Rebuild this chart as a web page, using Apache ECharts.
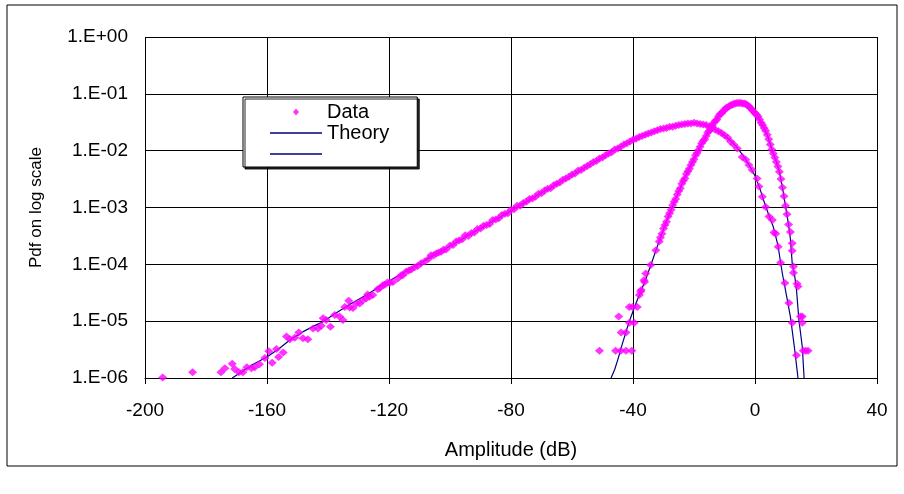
<!DOCTYPE html>
<html>
<head>
<meta charset="utf-8">
<script src="https://cdn.jsdelivr.net/npm/echarts@6/dist/echarts.min.js"></script>
<style>
html,body{margin:0;padding:0;background:#fff;}
#chart{width:904px;height:494px;}
</style>
</head>
<body>
<div id="chart"></div>
<script>
// Values are [amplitude dB, log10(pdf)]
const xTicks = [-200, -160, -120, -80, -40, 0, 40];
const yTickExps = [0, -1, -2, -3, -4, -5, -6];

const wideData = [
  [-194.2,-5.99],[-184.4,-5.90],[-175.1,-5.90],[-173.8,-5.83],[-171.4,-5.75],[-170.6,-5.84],
  [-169.2,-5.90],[-167.9,-5.90],[-166.6,-5.81],[-165.1,-5.83],[-164.0,-5.81],[-162.5,-5.76],
  [-160.7,-5.65],[-159.4,-5.53],[-158.3,-5.73],[-156.9,-5.49],[-156.2,-5.63],[-154.7,-5.55],
  [-153.6,-5.27],[-152.5,-5.32],[-150.9,-5.29],[-149.6,-5.20],[-148.2,-5.30],[-146.6,-5.32],
  [-144.9,-5.13],[-143.3,-5.13],[-142.2,-5.08],[-141.6,-4.95],[-140.6,-4.98],[-139.2,-5.10],
  [-137.8,-4.89],[-136.2,-4.92],[-135.1,-4.98],[-134.5,-4.75],[-133.2,-4.64],[-132.9,-4.76],
  [-131.8,-4.77],[-130.7,-4.69],[-129.6,-4.69],[-128.6,-4.63],[-127.5,-4.60],[-127.0,-4.53],
  [-126.4,-4.57],[-125.3,-4.54],[-123.7,-4.44],[-123.1,-4.42],[-122.0,-4.37],[-121.4,-4.36],
  [-120.5,-4.32],[-119.8,-4.33],[-118.7,-4.31],[-117.1,-4.25],[-116.0,-4.19],[-115.5,-4.19],
  [-114.4,-4.13],[-113.5,-4.11],[-112.7,-4.09],[-111.6,-4.05],[-110.6,-4.03],[-109.5,-3.98],
  [-108.3,-3.95],[-107.0,-3.90],[-106.2,-3.84],[-105.3,-3.84],[-104.5,-3.81],[-103.7,-3.79],
  [-102.9,-3.78],[-102.1,-3.74],[-101.3,-3.74],
  [-100,-3.67],[-99,-3.66],[-98,-3.60],[-97,-3.58],[-96,-3.56],[-95,-3.49],[-94,-3.50],
  [-93,-3.45],[-92,-3.44],[-91,-3.38],[-90,-3.37],[-89,-3.32],[-88,-3.31],[-87,-3.29],
  [-86,-3.22],[-85,-3.21],[-84,-3.19],[-83,-3.13],[-82,-3.11],[-81,-3.10],[-80,-3.04],
  [-79,-3.03],[-78,-2.97],[-77,-2.97],[-76,-2.92],[-75,-2.90],[-74,-2.85],[-73,-2.84],
  [-72,-2.81],[-71,-2.76],[-70,-2.75],[-69,-2.70],[-68,-2.67],[-67,-2.66],[-66,-2.61],
  [-65,-2.58],[-64,-2.56],[-63,-2.51],[-62,-2.49],[-61,-2.46],[-60,-2.42],[-59,-2.40],
  [-58,-2.35],[-57,-2.34],[-56,-2.30],[-55,-2.27],[-54,-2.24],[-53,-2.20],[-52,-2.18],
  [-51,-2.14],[-50,-2.12],[-49,-2.08],[-48,-2.05],[-47,-2.03],[-46,-1.98],[-45,-1.96],
  [-44,-1.93],[-43,-1.89],[-42,-1.87],[-41,-1.84],[-40,-1.81],[-39,-1.79],[-38,-1.76],
  [-37,-1.74],[-36,-1.72],[-35,-1.70],[-34,-1.68],[-33,-1.66],[-32,-1.64],[-31,-1.62],
  [-30,-1.61],[-29,-1.60],[-28,-1.58],[-27,-1.58],[-26,-1.56],[-25,-1.55],[-24,-1.54],
  [-23,-1.53],[-22,-1.52],[-21,-1.52],[-20,-1.51],[-19,-1.52],[-18,-1.53],[-17,-1.54],
  [-16,-1.55],[-15,-1.57],[-14,-1.60],[-13,-1.63],[-12,-1.66],[-11,-1.69],[-10,-1.73],
  [-9,-1.77],[-8,-1.84],[-7,-1.89],[-5.8,-1.96],[-4.2,-2.11],[-3.0,-2.16],[-2.0,-2.25],
  [-0.9,-2.34],[0.7,-2.49],[1.3,-2.63],[2.4,-2.81],[3.5,-2.99],[4.6,-3.16],[5.7,-3.22],
  [6.2,-3.44],[6.8,-3.46],[7.6,-3.69],[8.4,-3.97],[9.8,-4.33],[11.1,-4.68],[12.2,-5.03],
  [13.6,-5.60]
];

const narrowData = [
  [-51.0,-5.52],[-45.7,-5.52],[-44.0,-5.52],[-42.3,-5.52],[-40.4,-5.52],[-43.9,-5.20],
  [-42.3,-5.20],[-44.7,-4.92],[-41.2,-5.03],[-39.6,-5.03],[-41.2,-4.75],[-40.2,-4.75],
  [-38.6,-4.75],[-37.9,-4.54],[-37.5,-4.48],[-37.3,-4.45],[-36.4,-4.28],[-36.2,-4.31],
  [-35.8,-4.16],[-34.2,-4.01],[-32.5,-3.75],[-31.4,-3.60],
  [-31,-3.53],[-30.5,-3.46],[-30,-3.37],[-29.5,-3.31],[-29,-3.25],[-28.5,-3.16],[-28,-3.10],
  [-27.5,-3.04],[-27,-2.96],[-26.5,-2.90],[-26,-2.85],[-25.5,-2.77],[-25,-2.71],[-24.5,-2.66],
  [-24,-2.58],[-23.5,-2.53],[-23,-2.49],[-22.5,-2.41],[-22,-2.36],[-21.5,-2.32],[-21,-2.25],
  [-20.5,-2.20],[-20,-2.15],[-19.5,-2.08],[-19,-2.04],[-18.5,-1.99],[-18,-1.93],[-17.5,-1.87],
  [-17,-1.83],[-16.5,-1.80],[-16,-1.74],[-15.5,-1.68],[-15,-1.65],[-14.5,-1.61],[-14,-1.56],
  [-13.5,-1.51],[-13,-1.48],[-12.5,-1.45],[-12,-1.40],[-11.5,-1.36],[-11,-1.34],[-10.5,-1.31],
  [-10,-1.28],[-9.5,-1.25],[-9,-1.24],[-8.5,-1.22],[-8,-1.20],[-7.5,-1.19],[-7,-1.18],
  [-6.5,-1.17],[-6,-1.16],[-5.5,-1.16],[-5,-1.16],[-4.5,-1.16],[-4,-1.17],[-3.5,-1.17],
  [-3,-1.18],[-2.5,-1.20],[-2,-1.22],[-1.5,-1.25],[-1,-1.28],[-0.5,-1.31],[0,-1.34],
  [0.5,-1.37],[1,-1.40],[1.5,-1.45],[2,-1.51],[2.5,-1.55],[3,-1.60],[3.5,-1.65],[4,-1.72],
  [4.5,-1.80],[5,-1.89],[5.5,-1.98],[6,-2.05],[6.5,-2.12],[7,-2.20],[7.5,-2.28],[8,-2.37],
  [8.5,-2.50],[9,-2.65],[9.5,-2.80],[10,-2.97],[10.5,-3.12],[11,-3.30],
  [11.6,-3.43],[12.2,-3.63],[12.2,-3.76],[12.6,-4.04],[12.6,-4.15],[13.8,-4.34],[14.1,-4.39],
  [14.9,-4.92],[15.5,-4.92],[15.5,-5.03],[15.8,-5.52],[16.6,-5.52],[17.4,-5.52]
];

const wideTheory = [
  [-171.4,-6.00],[-168,-5.88],[-165,-5.77],[-160,-5.63],[-156,-5.48],[-152.5,-5.33],[-148,-5.18],
  [-144,-5.07],[-141.6,-5.01],[-138,-4.88],[-134,-4.74],[-130,-4.62],[-126,-4.49],[-122,-4.36],
  [-118,-4.23],[-114,-4.11],[-110,-3.99],[-106,-3.86],[-102,-3.74],[-98,-3.62],[-94,-3.49],
  [-90,-3.37],[-86,-3.24],[-82,-3.12],[-78,-2.99],[-74,-2.87],[-70,-2.74],[-66,-2.62],
  [-62,-2.49],[-58,-2.37],[-54,-2.24],[-50,-2.12],[-46,-1.99],[-42,-1.87],[-38,-1.76],
  [-35,-1.70],[-32,-1.64],[-29,-1.60],[-26,-1.56],[-23,-1.53],[-20,-1.51],[-17,-1.54],
  [-14,-1.60],[-11,-1.69],[-8,-1.82],[-6,-1.94],[-4,-2.08],[-2,-2.25],[0,-2.44],[1.5,-2.65],
  [3,-2.90],[4.5,-3.13],[6,-3.34],[7.5,-3.66],[9,-4.17],[10.5,-4.60],[11.6,-4.92],[12.9,-5.45],
  [14.1,-6.00]
];

const narrowTheory = [
  [-47.2,-6.00],[-46,-5.85],[-45,-5.68],[-43.5,-5.40],[-41.5,-5.05],[-39.5,-4.75],[-38,-4.55],
  [-36,-4.29],[-34,-3.99],[-32,-3.68],[-30,-3.38],[-28,-3.10],[-26,-2.84],[-24,-2.59],
  [-22,-2.36],[-20,-2.14],[-18,-1.93],[-16,-1.74],[-14,-1.56],[-12,-1.40],[-10,-1.28],
  [-8,-1.20],[-6,-1.16],[-4.5,-1.16],[-3,-1.18],[-2,-1.22],
  [-1,-1.28],[0,-1.34],[1,-1.40],[2,-1.51],[3,-1.60],[4,-1.72],[5,-1.89],[6,-2.05],[7,-2.20],
  [8,-2.37],[9,-2.65],[10,-2.97],[11,-3.30],[11.6,-3.55],[12.2,-3.98],[13,-4.20],[13.6,-4.45],
  [14.4,-4.98],[15.5,-5.45],[16.1,-6.00]
];

const toPdf = pts => pts.map(p => [p[0], Math.pow(10, p[1])]);

const FONT = "'Liberation Sans', Arial, sans-serif";
const MAGENTA = '#FF00FF';
const NAVY = '#000080';

function expLabel(v) {
  const e = Math.round(Math.log10(v));
  return '1.E' + (e < 0 ? '-' : '+') + String(Math.abs(e)).padStart(2, '0');
}

const LINE_ICON = 'path://M0,0 L52,0 L52,1.6 L0,1.6 Z';
const DOT_ICON = 'path://M3,0 L6,3.5 L3,7 L0,3.5 Z';

const chart = echarts.init(document.getElementById('chart'), null, {renderer: 'canvas'});
chart.setOption({
  backgroundColor: '#ffffff',
  animation: false,
  graphic: [{
    type: 'rect',
    shape: {x: 7, y: 5, width: 890, height: 461},
    style: {fill: 'none', stroke: '#000', lineWidth: 1},
    silent: true, z: -1
  }],
  legend: {
    orient: 'vertical',
    left: 243, top: 97,
    itemWidth: 52, itemHeight: 7, itemGap: 1,
    padding: [5, 28, 3, 27],
    backgroundColor: '#fff',
    borderColor: '#000', borderWidth: 1,
    shadowColor: 'rgba(0,0,0,0.85)', shadowBlur: 0, shadowOffsetX: 2, shadowOffsetY: 2,
    textStyle: {fontSize: 20, color: '#000', fontFamily: FONT},
    selectedMode: false,
    symbolKeepAspect: true,
    data: [
      {name: 'Data', icon: DOT_ICON},
      {name: 'Theory', icon: LINE_ICON},
      {name: ' ', icon: LINE_ICON}
    ]
  },
  grid: {left: 145, right: 27, top: 37, bottom: 116},
  xAxis: {
    type: 'value', min: xTicks[0], max: xTicks[xTicks.length - 1], interval: 40,
    name: 'Amplitude (dB)', nameLocation: 'middle', nameGap: 62,
    nameTextStyle: {fontSize: 20, color: '#000', fontFamily: FONT},
    axisLine: {show: true, onZero: false, lineStyle: {color: '#000', width: 1}},
    axisTick: {show: true, length: 6, lineStyle: {color: '#000'}},
    axisLabel: {fontSize: 19, color: '#000', fontFamily: FONT, margin: 23},
    splitLine: {show: true, lineStyle: {color: '#000', width: 1}}
  },
  yAxis: {
    type: 'log', logBase: 10,
    min: Math.pow(10, yTickExps[yTickExps.length - 1]), max: Math.pow(10, yTickExps[0]),
    name: 'Pdf on log scale', nameLocation: 'middle', nameGap: 100,
    nameTextStyle: {fontSize: 17, color: '#000', fontFamily: FONT},
    axisLine: {show: true, lineStyle: {color: '#000', width: 1}},
    axisTick: {show: true, length: 6, lineStyle: {color: '#000'}},
    axisLabel: {fontSize: 19, color: '#000', fontFamily: FONT, margin: 17, formatter: expLabel},
    splitLine: {show: true, lineStyle: {color: '#000', width: 1}},
    minorTick: {show: false}
  },
  series: [
    {
      name: 'Data', type: 'scatter', data: toPdf(wideData),
      symbol: 'diamond', symbolSize: [9, 8],
      itemStyle: {color: MAGENTA}, z: 3
    },
    {
      name: 'Theory', type: 'line', data: toPdf(wideTheory),
      symbol: 'none', lineStyle: {color: NAVY, width: 1.2}, itemStyle: {color: NAVY}, z: 2
    },
    {
      name: ' ', type: 'line', data: toPdf(narrowTheory),
      symbol: 'none', lineStyle: {color: NAVY, width: 1.2}, itemStyle: {color: NAVY}, z: 2
    },
    {
      name: 'Data', type: 'scatter', data: toPdf(narrowData),
      symbol: 'diamond', symbolSize: [9, 8],
      itemStyle: {color: MAGENTA}, z: 3
    }
  ]
});
</script>
</body>
</html>
